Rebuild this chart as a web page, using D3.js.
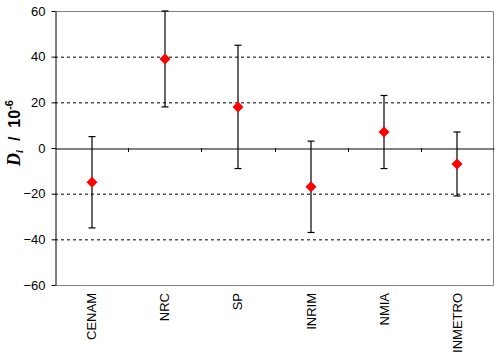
<!DOCTYPE html>
<html><head><meta charset="utf-8">
<script src="https://cdn.jsdelivr.net/npm/d3@7"></script>
<style>body{margin:0;background:#fff}svg{display:block}</style>
</head><body>
<svg id="c" width="496" height="362"></svg>
<script>
const categories = ["CENAM","NRC","SP","INRIM","NMIA","INMETRO"];
const values = [-15, 39, 18, -17, 7, -7];
const uncertainties = [20, 21, 27, 20, 16, 14];
const yTicks = [-60,-40,-20,0,20,40,60];

const svg = d3.select("#c");
const L=55, R=494, T=11, B=285;
const x = d3.scaleBand().domain(categories).range([L,R]);
const y = d3.scaleLinear().domain([-60,60]).range([B,T]);

// gridlines
svg.append("g").selectAll("line").data(yTicks.filter(d=>d!==0 && Math.abs(d)!==60)).join("line")
  .attr("x1",L).attr("x2",R).attr("y1",d=>y(d)+0.5).attr("y2",d=>y(d)+0.5)
  .attr("stroke","#000").attr("stroke-dasharray","3,3").attr("stroke-width",1);

// plot border (top, right, bottom)
svg.append("path").attr("d",`M${L},${T+0.5}H${R-0.5}V${B+0.5}H${L}`)
  .attr("fill","none").attr("stroke","#808080").attr("stroke-width",1);

// y axis
const ya = svg.append("g").attr("transform",`translate(${L+0.5},0)`)
  .call(d3.axisLeft(y).tickValues(yTicks).tickSize(4).tickSizeOuter(0).tickPadding(6));
ya.select(".domain").attr("stroke","#000");
ya.selectAll(".tick line").attr("stroke","#000");
ya.selectAll("text").attr("font-family","Liberation Sans, Arial, sans-serif").attr("font-size",13).attr("fill","#000");

// zero line with ticks
const zx = svg.append("g").attr("transform",`translate(0,${y(0)+0.5})`)
  .call(d3.axisBottom(x).tickSize(0).tickFormat(""));
zx.select(".domain").attr("stroke","#000");
zx.selectAll(".tick").remove();
svg.append("g").selectAll("line").data(categories.slice(1)).join("line")
  .attr("x1",d=>Math.round(x(d))+0.5).attr("x2",d=>Math.round(x(d))+0.5)
  .attr("y1",y(0)).attr("y2",y(0)+4).attr("stroke","#000");

// category labels
svg.append("g").selectAll("text").data(categories).join("text")
  .attr("transform",d=>`translate(${x(d)+x.bandwidth()/2},293) rotate(-90)`)
  .attr("text-anchor","end").attr("dy","0.35em")
  .attr("font-family","Liberation Sans, Arial, sans-serif").attr("font-size",13)
  .text(d=>d);

// error bars
const eb = svg.append("g").attr("stroke","#000").attr("stroke-width",1.2);
categories.forEach((c,i)=>{
  const cx = Math.round(x(c)+x.bandwidth()/2);
  const hi = Math.min(60, values[i]+uncertainties[i]), lo = values[i]-uncertainties[i];
  eb.append("line").attr("x1",cx).attr("x2",cx).attr("y1",y(hi)).attr("y2",y(lo));
  [hi,lo].forEach(v=>eb.append("line").attr("x1",cx-3.5).attr("x2",cx+3.5).attr("y1",y(v)).attr("y2",y(v)));
});

// points
svg.append("g").selectAll("path").data(categories).join("path")
  .attr("transform",(d,i)=>`translate(${Math.round(x(d)+x.bandwidth()/2)},${y(values[i])})`)
  .attr("d","M0,-5.5L5.5,0L0,5.5L-5.5,0Z")
  .attr("fill","#ff0000");

// y label
const yl = svg.append("text").attr("transform","translate(20,133) rotate(-90)")
  .attr("text-anchor","middle").attr("font-size",16).attr("font-weight","bold")
  .attr("font-family","Liberation Sans, Arial, sans-serif").style("white-space","pre");
yl.append("tspan").attr("font-family","Liberation Serif, Times New Roman, serif").attr("font-style","italic").attr("font-size",18).text("D");
yl.append("tspan").attr("font-family","Liberation Serif, Times New Roman, serif").attr("font-style","italic").attr("font-size",11).attr("dy",3).text("i");
yl.append("tspan").attr("dy",-3).text("  /  10");
yl.append("tspan").attr("font-size",11).attr("dy",-7).text("-6");
</script>
</body></html>
